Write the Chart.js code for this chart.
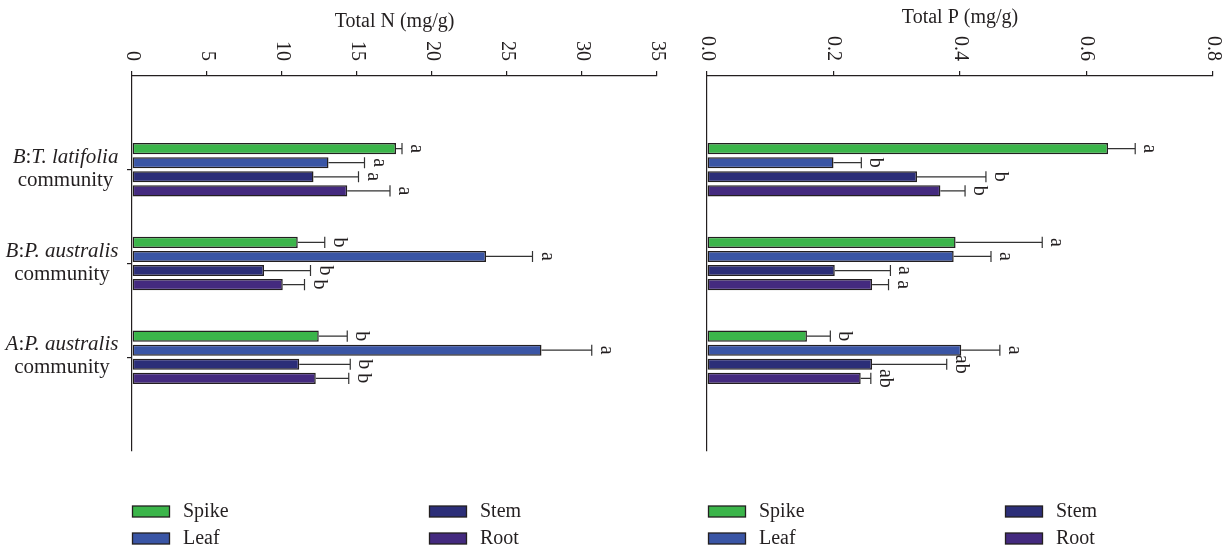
<!DOCTYPE html>
<html>
<head>
<meta charset="utf-8">
<script src="https://cdn.jsdelivr.net/npm/chart.js@4/dist/chart.umd.min.js"></script>
<style>
html, body { margin: 0; padding: 0; background: #fff; }
#wrap { position: relative; width: 1229px; height: 550px; }
canvas { position: absolute; top: 0; }
</style>
</head>
<body>
<div id="wrap">
    <canvas id="chartN" width="680" height="550" style="left:0"></canvas>
    <canvas id="chartP" width="549" height="550" style="left:680px"></canvas>
</div>
<script>
// Communities, top to bottom
const communities = [
    ['B:T. latifolia', 'community'],
    ['B:P. australis', 'community'],
    ['A:P. australis', 'community']
];
const organs = ['Spike', 'Leaf', 'Stem', 'Root'];
const organColors = ['#3bb54a', '#3a55a5', '#2c2e78', '#442a7f'];

// Total N (mg/g)
const nSpike = [17.6, 11.05, 12.45];
const nLeaf = [13.1, 23.6, 27.3];
const nStem = [12.1, 8.8, 11.15];
const nRoot = [14.35, 10.05, 12.25];
const nSpikeErr = [0.4, 1.8, 1.9];
const nLeafErr = [2.4, 3.1, 3.35];
const nStemErr = [3.0, 3.1, 3.4];
const nRootErr = [2.85, 1.45, 2.2];
const nSpikeSig = ['a', 'b', 'b'];
const nLeafSig = ['a', 'a', 'a'];
const nStemSig = ['a', 'b', 'b'];
const nRootSig = ['a', 'b', 'b'];
const nTickLabels = ['0', '5', '10', '15', '20', '25', '30', '35'];

// Total P (mg/g)
const pSpike = [0.634, 0.393, 0.158];
const pLeaf = [0.200, 0.390, 0.402];
const pStem = [0.332, 0.202, 0.261];
const pRoot = [0.369, 0.261, 0.243];
const pSpikeErr = [0.043, 0.137, 0.037];
const pLeafErr = [0.044, 0.059, 0.061];
const pStemErr = [0.109, 0.088, 0.118];
const pRootErr = [0.039, 0.026, 0.016];
const pSpikeSig = ['a', 'a', 'b'];
const pLeafSig = ['b', 'a', 'a'];
const pStemSig = ['b', 'a', 'ab'];
const pRootSig = ['b', 'a', 'ab'];
const pTickLabels = ['0.0', '0.2', '0.4', '0.6', '0.8'];

const FONT = '"Liberation Serif", "DejaVu Serif", serif';
const INK = '#231f20';

// pad with empty slots so the groups sit at 1/4, 2/4, 3/4 of the axis
function pad(arr) {
    return [null].concat(arr, [null]);
}

function makeDatasets(vals, errs, sigs) {
    return organs.map((name, k) => ({
        label: name,
        data: pad(vals[k]),
        errors: pad(errs[k]),
        letters: pad(sigs[k]),
        backgroundColor: organColors[k],
        borderColor: INK,
        borderWidth: 1.5,
        borderSkipped: false,
        categoryPercentage: 0.6,
        barPercentage: 0.79
    }));
}

// Draw a label line where the text around ':' is italic
function drawMixedLine(ctx, text, cx, y, size) {
    const parts = [];
    const idx = text.indexOf(':');
    parts.push([text.slice(0, idx), 'italic']);
    parts.push([':', 'normal']);
    parts.push([text.slice(idx + 1), 'italic']);
    let total = 0;
    parts.forEach(p => {
        ctx.font = p[1] + ' ' + size + 'px ' + FONT;
        p.push(ctx.measureText(p[0]).width);
        total += p[2];
    });
    let x = cx - total / 2;
    parts.forEach(p => {
        ctx.font = p[1] + ' ' + size + 'px ' + FONT;
        ctx.fillText(p[0], x, y);
        x += p[2];
    });
    return total;
}

const decorPlugin = {
    id: 'decor',
    afterDatasetsDraw(chart) {
        const ctx = chart.ctx;
        const xs = chart.scales.x;
        ctx.save();
        chart.data.datasets.forEach((ds, di) => {
            const meta = chart.getDatasetMeta(di);
            meta.data.forEach((bar, i) => {
                const v = ds.data[i];
                if (v == null) return;
                const e = xs.getPixelForValue(v + ds.errors[i]);
                const h = bar.height;
                ctx.strokeStyle = '#333';
                ctx.lineWidth = 1.2;
                ctx.beginPath();
                ctx.moveTo(bar.x, bar.y);
                ctx.lineTo(e, bar.y);
                ctx.moveTo(e, bar.y - h / 2);
                ctx.lineTo(e, bar.y + h / 2);
                ctx.stroke();

                // significance letter, rotated
                ctx.save();
                ctx.translate(e + 9, bar.y);
                ctx.rotate(Math.PI / 2);
                ctx.font = '20px ' + FONT;
                ctx.fillStyle = INK;
                ctx.textAlign = 'center';
                ctx.textBaseline = 'alphabetic';
                ctx.fillText(ds.letters[i], 0, 0);
                ctx.restore();
            });
        });
        ctx.restore();
    },
    afterDraw(chart, args, o) {
        const ctx = chart.ctx;
        const xs = chart.scales.x;
        const ys = chart.scales.y;
        const area = chart.chartArea;
        ctx.save();
        ctx.fillStyle = INK;

        // title
        ctx.font = '20px ' + FONT;
        ctx.textAlign = 'center';
        ctx.textBaseline = 'alphabetic';
        ctx.fillText(o.title, (area.left + area.right) / 2, o.titleY);

        // rotated tick labels above the axis
        o.tickLabels.forEach(t => {
            const px = xs.getPixelForValue(parseFloat(t));
            ctx.save();
            ctx.translate(px, 61);
            ctx.rotate(Math.PI / 2);
            ctx.textAlign = 'right';
            ctx.textBaseline = 'middle';
            ctx.fillText(t, 0, 0);
            ctx.restore();
        });

        // category labels
        if (o.showCategories) {
            ctx.textAlign = 'left';
            communities.forEach((lines, i) => {
                const ty = ys.getPixelForTick(i + 1);
                ctx.font = 'italic 21px ' + FONT;
                let w1 = 0;
                // measure first line
                const tmp = ctx.measureText(lines[0]).width;
                ctx.font = '21px ' + FONT;
                const w2 = ctx.measureText(lines[1]).width;
                const blockW = Math.max(tmp, w2);
                const cx = 119 - blockW / 2;
                drawMixedLine(ctx, lines[0], cx, ty - 7, 21);
                ctx.font = '21px ' + FONT;
                ctx.textAlign = 'center';
                ctx.fillText(lines[1], cx, ty + 16);
                ctx.textAlign = 'left';
            });
        }

        // legend, two columns
        ctx.font = '20px ' + FONT;
        ctx.textAlign = 'left';
        ctx.textBaseline = 'alphabetic';
        chart.data.datasets.forEach((ds, k) => {
            const col = Math.floor(k / 2);
            const row = k % 2;
            const bx = area.left + o.legendShift + col * 297;
            const by = 506 + row * 27;
            ctx.fillStyle = ds.backgroundColor;
            ctx.fillRect(bx, by, 37, 11);
            ctx.strokeStyle = INK;
            ctx.lineWidth = 1.3;
            ctx.strokeRect(bx, by, 37, 11);
            ctx.fillStyle = INK;
            ctx.fillText(ds.label, bx + 50.5, by + 11);
        });
        ctx.restore();
    }
};

function makeChart(id, cfg) {
    const labels = [''].concat(communities.map(c => c.join(' ')), ['']);
    return new Chart(document.getElementById(id), {
        type: 'bar',
        data: {
            labels: labels,
            datasets: makeDatasets(cfg.vals, cfg.errs, cfg.sigs)
        },
        options: {
            indexAxis: 'y',
            responsive: false,
            animation: false,
            events: [],
            layout: { padding: { top: 0, left: 0, right: cfg.padRight, bottom: 99 } },
            plugins: {
                legend: { display: false },
                tooltip: { enabled: false },
                decor: {
                    title: cfg.title,
                    titleY: cfg.titleY,
                    tickLabels: cfg.tickLabels,
                    showCategories: cfg.showCategories,
                    legendShift: cfg.legendShift
                }
            },
            scales: {
                x: {
                    position: 'top',
                    min: 0,
                    max: cfg.max,
                    ticks: { display: false, stepSize: cfg.step },
                    grid: {
                        drawOnChartArea: false,
                        drawTicks: true,
                        tickLength: 5,
                        color: INK,
                        lineWidth: 1.2
                    },
                    border: { display: true, color: INK, width: 1.2 },
                    afterFit: s => { s.height = 76; }
                },
                y: {
                    offset: false,
                    ticks: { display: false },
                    grid: {
                        offset: false,
                        drawOnChartArea: false,
                        drawTicks: true,
                        tickLength: 5,
                        lineWidth: 1.2,
                        color: c => (cfg.showCategories && c.index > 0 && c.index < 4) ? INK : 'rgba(0,0,0,0)'
                    },
                    border: { display: true, color: INK, width: 1.2 },
                    afterFit: s => { s.width = cfg.yWidth; }
                }
            }
        },
        plugins: [decorPlugin]
    });
}

makeChart('chartN', {
    vals: [nSpike, nLeaf, nStem, nRoot],
    errs: [nSpikeErr, nLeafErr, nStemErr, nRootErr],
    sigs: [nSpikeSig, nLeafSig, nStemSig, nRootSig],
    tickLabels: nTickLabels,
    title: 'Total N (mg/g)',
    titleY: 27,
    max: 35,
    step: 5,
    yWidth: 132,
    padRight: 23,
    showCategories: true,
    legendShift: 0.5
});

makeChart('chartP', {
    vals: [pSpike, pLeaf, pStem, pRoot],
    errs: [pSpikeErr, pLeafErr, pStemErr, pRootErr],
    sigs: [pSpikeSig, pLeafSig, pStemSig, pRootSig],
    tickLabels: pTickLabels,
    title: 'Total P (mg/g)',
    titleY: 23,
    max: 0.8,
    step: 0.2,
    yWidth: 27,
    padRight: 16,
    showCategories: false,
    legendShift: 1.5
});
</script>
</body>
</html>
